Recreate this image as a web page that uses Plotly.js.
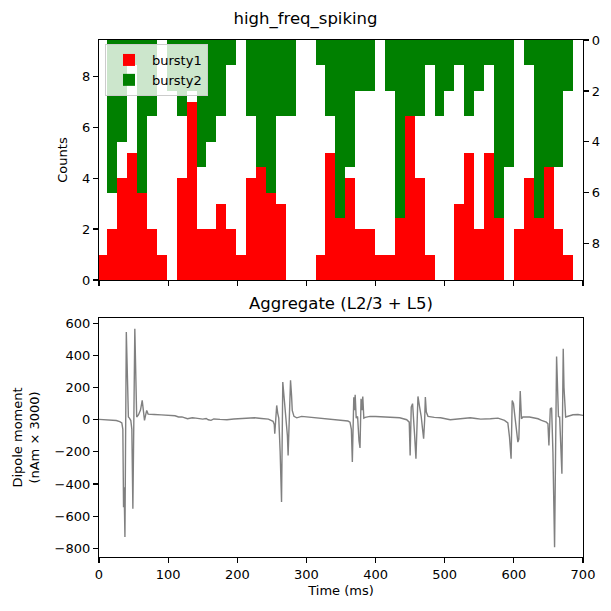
<!DOCTYPE html>
<html>
<head>
<meta charset="utf-8">
<script src="https://cdn.plot.ly/plotly-3.0.1.min.js"></script>
<style>
  html, body { margin: 0; padding: 0; background: white; }
  #plot { width: 611px; height: 611px; }
</style>
</head>
<body>
<div id="plot"></div>
<script>
// spike histogram, bins of ~14.3 ms (first bin starts slightly before 0)
var binStart = -2.3;
var binWidth = 14.34;
var bursty1Counts = [1, 2, 4, 5, 3.5, 2, 1, 0, 4, 7, 2, 2, 3, 2, 1, 4, 4.5, 3.5, 3, 0, 0, 0, 1, 5,
                     2.5, 4, 2, 2, 1, 1, 2.5, 6.5, 4, 1, 0, 0, 3, 5, 2, 5, 2.5, 0, 2, 4, 2.5, 4.5, 2, 1];
var bursty2Counts = [0, 6, 4, 1, 6, 3, 0, 2, 3, 2, 5, 4, 3, 1, 0, 3, 5, 6, 3, 3, 0, 0, 1, 3,
                     7, 5, 2, 2, 0, 2, 7, 3, 3, 1, 3, 2, 1, 3, 2, 1, 7, 5, 0, 1, 7, 5, 5, 2];

// aggregate dipole (nAm x 3000)
var dipoleTime = [0, 10, 20, 25, 30, 33, 34.5, 35.5, 36.3, 37.5, 39.5, 41.5, 42.5, 44, 46, 47.5, 49, 51.8,
                  53.5, 54.5, 57, 60, 62.5, 64, 65.8, 67.5, 69, 71, 75, 80, 90, 100, 110, 115, 120, 128,
                  135, 140, 150, 155, 158, 162, 166, 175, 185, 195, 210, 225, 235, 245, 251.7, 253.5, 254.2,
                  255, 256, 257, 258.5, 260, 262, 264, 265.8, 267.5, 268.7, 270, 271, 272.5, 273.5, 275,
                  277, 278.5, 279.5, 282, 286, 293, 300, 310, 322, 336, 351, 360, 363, 365, 366.4, 367.5,
                  368.5, 369.5, 370.5, 372, 374, 376, 377.5, 379, 380.5, 381.5, 383, 385, 392, 400, 414,
                  421, 435, 445, 448.7, 450, 451.6, 453.5, 455, 456.5, 458.4, 461.3, 463.7, 466, 468,
                  469.5, 471, 472, 473.4, 475.8, 485, 494, 508, 520, 532, 537, 545, 552, 566, 577, 586.5,
                  591.3, 593.7, 596, 597.6, 599.5, 601, 602.4, 604, 605.8, 607.2, 609.2, 611, 613, 622.7,
                  635, 640, 647, 649.3, 650.7, 652.7, 654.6, 656.5, 658.9, 661.8, 663.5, 664.5, 666.2,
                  668, 669.5, 671.4, 672.5, 674.9, 678.3, 685.5, 692.8, 700];
var dipoleValue = [2, 1, 0, -5, -12, -20, -60, -545, -420, -730, 546, 200, 17, 10, -5, -60, -554, 566,
                   100, 17, 30, 60, 120, 60, -4, 30, 58, 35, 33, 33, 30, 27, 25, 17, 18, 6,
                   12, 10, 4, 8, 0, -4, 5, 2, 0, 5, 8, 12, 8, 4, -10, -30, -87,
                   -20, 60, 89, 40, 10, -200, -512, 234, 150, 79, 30, -4, -100, -222, 0,
                   245, 150, 58, 21, 12, 21, 18, 15, 12, 4, 0, -8, -15, -60, -263, 60,
                   140, 60, 155, 10, 20, -130, -175, 130, 60, 145, 10, 15, 21, 20, 17,
                   17, 12, 0, -15, -222, 79, 100, 20, -100, -243, 145, 79, 20, -60,
                   -118, 0, 141, 48, 21, 15, 12, 0, 4, 6, 12, 8, 4, 6, 10, -4,
                   -20, -108, -243, 120, 100, 40, -4, -80, -139, -120, 178, 6, 17, 17,
                   6, -4, -15, -25, -160, 68, 75, -200, -793, 394, 100, 20, 17,
                   -150, -336, 442, 200, 17, 21, 31, 33, 27];

var binCenters = bursty1Counts.map(function(c, i) { return binStart + (i + 0.5) * binWidth; });

var FONT = 'DejaVu Sans, sans-serif';
var W = 611, H = 611;
function fx(px) { return px / W; }
function fy(py) { return 1 - py / H; }

var axisStyle = {
  showline: true, linecolor: 'black', linewidth: 1.1, mirror: true,
  ticks: 'outside', ticklen: 5, tickwidth: 1.1, tickcolor: 'black',
  showgrid: false, zeroline: false,
  tickfont: {family: FONT, size: 13, color: 'black'}
};
function ax(extra) { return Object.assign({}, axisStyle, extra); }

var traces = [
  {
    type: 'bar', name: 'bursty1',
    x: binCenters, y: bursty1Counts, width: binWidth,
    marker: {color: '#ff0000', line: {width: 0}},
    xaxis: 'x', yaxis: 'y'
  },
  {
    type: 'bar', name: 'bursty2',
    x: binCenters, y: bursty2Counts, width: binWidth,
    marker: {color: '#008000', line: {width: 0}},
    xaxis: 'x', yaxis: 'y3'
  },
  {
    type: 'scatter', mode: 'lines', showlegend: false,
    x: dipoleTime, y: dipoleValue,
    line: {color: '#808080', width: 1.4},
    xaxis: 'x2', yaxis: 'y2'
  }
];

var layout = {
  width: W, height: H,
  margin: {l: 0, r: 0, t: 0, b: 0},
  paper_bgcolor: 'white', plot_bgcolor: 'white',
  font: {family: FONT, size: 13, color: 'black'},
  barmode: 'overlay', bargap: 0,
  title: {
    text: 'high_freq_spiking', x: 0.5, xanchor: 'center',
    y: fy(18), yanchor: 'middle', font: {family: FONT, size: 16.5, color: 'black'}
  },
  legend: {
    x: fx(105), y: fy(44), xanchor: 'left', yanchor: 'top',
    bgcolor: 'rgba(255,255,255,0.8)', bordercolor: '#cccccc', borderwidth: 1,
    font: {family: FONT, size: 13, color: 'black'}, traceorder: 'normal',
    itemwidth: 36
  },
  xaxis: ax({
    domain: [fx(99), fx(583)], range: [0, 700], dtick: 100,
    anchor: 'y', showticklabels: false
  }),
  yaxis: ax({
    domain: [fy(280), fy(40)], range: [0, 9.42], dtick: 2, anchor: 'x',
    title: {text: 'Counts', standoff: 11, font: {family: FONT, size: 13, color: 'black'}}
  }),
  yaxis3: ax({
    overlaying: 'y', side: 'right', anchor: 'x',
    range: [9.42, 0], dtick: 2
  }),
  xaxis2: ax({
    domain: [fx(99), fx(583)], range: [0, 700], dtick: 100, anchor: 'y2',
    title: {text: 'Time (ms)', standoff: 5, font: {family: FONT, size: 13, color: 'black'}}
  }),
  yaxis2: ax({
    domain: [fy(557), fy(318)], range: [-854, 633], dtick: 200, anchor: 'x2',
    title: {text: 'Dipole moment<br>(nAm × 3000)', standoff: 12, font: {family: FONT, size: 13, color: 'black'}}
  }),
  annotations: [{
    text: 'Aggregate (L2/3 + L5)', xref: 'paper', yref: 'paper',
    x: fx(341), y: fy(303), xanchor: 'center', yanchor: 'middle',
    showarrow: false, font: {family: FONT, size: 16.5, color: 'black'}
  }]
};

Plotly.newPlot('plot', traces, layout, {displayModeBar: false, staticPlot: true});
</script>
</body>
</html>
